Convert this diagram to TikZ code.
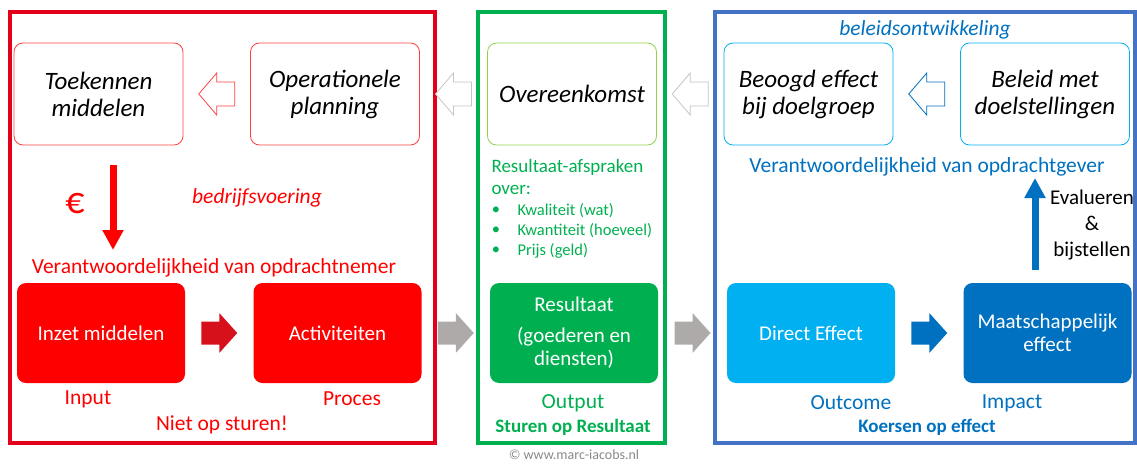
\documentclass[tikz,border=0pt]{standalone}
\usepackage{fontspec}
\setmainfont{Carlito}
\usepackage{tikz}
\usetikzlibrary{calc}
\usetikzlibrary{arrows.meta}
\usetikzlibrary{positioning}
\definecolor{RedLine}{HTML}{E2001A}
\definecolor{RedFill}{HTML}{FF0000}
\definecolor{RedDark}{HTML}{D7111C}
\definecolor{GreenLine}{HTML}{00B050}
\definecolor{GreenLight}{HTML}{92D050}
\definecolor{BlueLine}{HTML}{4472C4}
\definecolor{BlueText}{HTML}{0070C0}
\definecolor{BlueLight}{HTML}{00B0F0}
\definecolor{GreyArrow}{HTML}{AEAAAA}

\begin{document}
\begin{tikzpicture}[
x=1pt,y=-1pt,
OpenBox/.style={draw=#1,line width=0.8pt,rounded corners=9pt,minimum width=169pt,minimum height=102pt,align=center,font=\fontsize{25}{27}\selectfont\itshape},
FullBox/.style={fill=#1,rounded corners=9pt,minimum width=168pt,minimum height=100pt,align=center,text=white,font=\fontsize{21}{23}\selectfont},
Frame/.style={draw=#1,line width=4pt},
Label/.style={text=#1,font=\fontsize{21.5}{23}\selectfont},
SmallLabel/.style={text=#1,font=\fontsize{16.5}{19}\selectfont},
BigArrow/.style={draw=#1,line width=7pt,-{Triangle[width=20pt,length=20pt]}},
pics/HollowArrow/.style={code={
  \draw[draw=#1,line width=0.8pt,fill=white] (-18,0) -- (0,-21) -- (0,-12) -- (18,-12)
    -- (18,12) -- (0,12) -- (0,21) -- cycle;}},
pics/SolidArrow/.style={code={
  \fill[#1] (-18,-11.5) -- (0,-11.5) -- (0,-20) -- (18,0) -- (0,20) -- (0,11.5)
    -- (-18,11.5) -- cycle;}}
]
\useasboundingbox (0,0) rectangle (1137,463);

% frames
\draw[Frame=RedLine] (10,12) rectangle (435,443);
\draw[Frame=GreenLine] (478,12) rectangle (665,443);
\draw[Frame=BlueLine] (715,12) rectangle (1135,443);

% top row
\node[OpenBox=RedFill!75] (toek) at (98.5,94) {Toekennen\\middelen};
\node[OpenBox=RedFill!75] (oper) at (335,94) {Operationele\\planning};
\node[OpenBox=GreenLight] (over) at (572,94) {Overeenkomst};
\node[OpenBox=BlueLight] (beoo) at (808.5,94) {Beoogd effect\\bij doelgroep};
\node[OpenBox=BlueLight] (bele) at (1045,94) {Beleid met\\doelstellingen};

\pic at ($(toek.east)!0.5!(oper.west)$) {HollowArrow=RedFill!75};
\pic at ($(oper.east)!0.5!(over.west)$) {HollowArrow=GreyArrow!70};
\pic at ($(over.east)!0.5!(beoo.west)$) {HollowArrow=GreyArrow!70};
\pic at ($(beoo.east)!0.5!(bele.west)$) {HollowArrow=BlueText};

% bottom row
\node[FullBox=RedFill] (inzet) at (101,333) {Inzet middelen};
\node[FullBox=RedFill] (activ) at (337.5,333) {Activiteiten};
\node[FullBox=GreenLine] (resul) at (574,333) {Resultaat\\[8pt](goederen en\\diensten)};
\node[FullBox=BlueLight] (direc) at (811,333) {Direct Effect};
\node[FullBox=BlueText] (maats) at (1047.5,333) {Maatschappelijk\\effect};

\pic at ($(inzet.east)!0.5!(activ.west)$) {SolidArrow=RedDark};
\pic at ($(activ.east)!0.5!(resul.west)$) {SolidArrow=GreyArrow};
\pic at ($(resul.east)!0.5!(direc.west)$) {SolidArrow=GreyArrow};
\pic at ($(direc.east)!0.5!(maats.west)$) {SolidArrow=BlueText};

% red column
\node[Label=RedFill] (opdrn) at (214,268) {Verantwoordelijkheid van opdrachtnemer};
\coordinate (eurotop) at (113,165);
\draw[BigArrow=RedFill] (eurotop) -- (113,250);
\node[text=RedFill,font=\fontsize{38}{38}\selectfont] (euro) at (75,204) {€};
\node[Label=RedFill,font=\fontsize{21.5}{23}\selectfont\itshape] (bedr) at (257,198) {bedrijfsvoering};
\node[Label=RedFill] (input) at (88,399) {Input};
\node[Label=RedFill] (proces) at (352,399) {Proces};
\node[Label=RedFill] (niet) at (222,425) {Niet op sturen!};

% green column
\node[Label=GreenLine,font=\fontsize{19}{23}\selectfont,anchor=west] (afspr) at (488,167) {Resultaat-afspraken};
\node[Label=GreenLine,font=\fontsize{19}{23}\selectfont,anchor=west] (overr) at (488,190) {over:};
\node[SmallLabel=GreenLine] (b1) at (496,211) {•};
\node[SmallLabel=GreenLine,anchor=west] (kwal) at (514,211) {Kwaliteit (wat)};
\node[SmallLabel=GreenLine] (b2) at (496,231) {•};
\node[SmallLabel=GreenLine,anchor=west] (kwan) at (514,231) {Kwantiteit (hoeveel)};
\node[SmallLabel=GreenLine] (b3) at (496,251) {•};
\node[SmallLabel=GreenLine,anchor=west] (prijs) at (514,251) {Prijs (geld)};
\node[Label=GreenLine] (outp) at (573,403) {Output};
\node[text=GreenLine,font=\fontsize{19}{21}\selectfont\bfseries] (sturen) at (573,427) {Sturen op Resultaat};

% blue column
\node[Label=BlueText,font=\fontsize{21.5}{23}\selectfont\itshape] (belo) at (925,30) {beleidsontwikkeling};
\node[Label=BlueText] (opdrg) at (927,167) {Verantwoordelijkheid van opdrachtgever};
\coordinate (evalbot) at (1035,270);
\draw[BigArrow=BlueText] (evalbot) -- (1035,178);
\node[font=\fontsize{21}{26}\selectfont,align=center] (eval) at (1092,225) {Evalueren\\\&\\bijstellen};
\node[Label=BlueText] (outc) at (851,403) {Outcome};
\node[Label=BlueText] (impa) at (1012,403) {Impact};
\node[text=BlueText,font=\fontsize{19}{21}\selectfont\bfseries] (koers) at (927,427) {Koersen op effect};

\node[text=GreyArrow!80!black,font=\fontsize{14}{15}\selectfont] (copy) at (574,455) {© www.marc-iacobs.nl};

\end{tikzpicture}
\end{document}
